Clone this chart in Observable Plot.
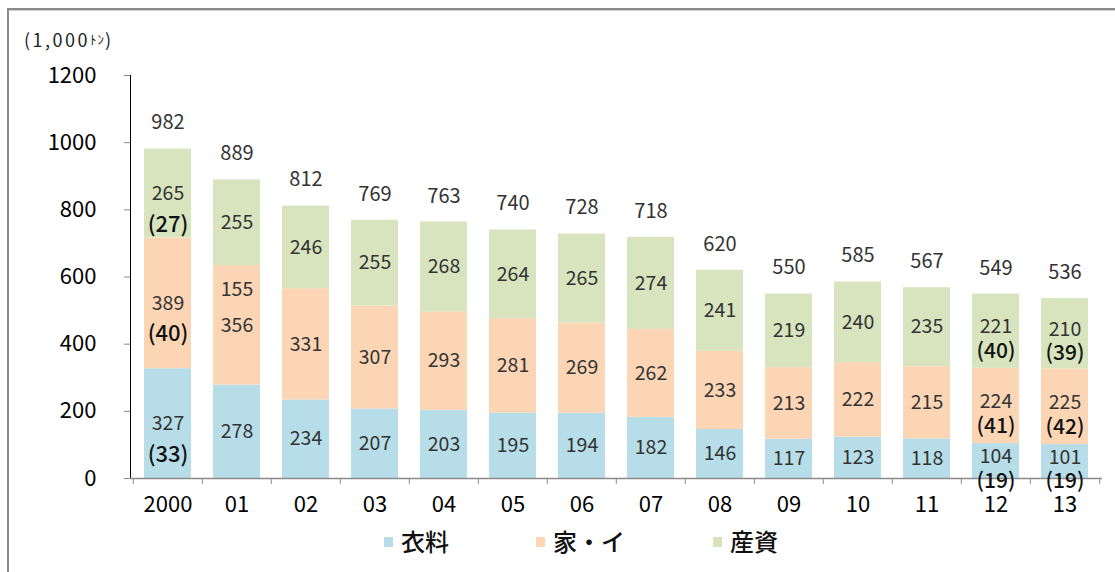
<!DOCTYPE html>
<html><head><meta charset="utf-8">
<script src="https://cdn.jsdelivr.net/npm/d3@7"></script>
<script src="https://cdn.jsdelivr.net/npm/@observablehq/plot@0.6"></script>
<style>
body{margin:0;background:#fff;font-family:"Noto Sans CJK JP","Noto Sans",sans-serif;}
#wrap{position:relative;width:1115px;height:572px;overflow:hidden;background:#fff;}
#chart{position:absolute;left:0;top:0;}
#frameTop{position:absolute;left:7px;top:8px;width:1108px;height:0;border-top:2px solid #8a8a8a;box-shadow:0 1px 0 #d0d0d0;}
#frameLeft{position:absolute;left:7px;top:8px;width:0;height:570px;border-left:2px solid #8a8a8a;}
#unit{position:absolute;left:24px;top:26px;font-size:18px;letter-spacing:2.5px;color:#222;white-space:nowrap;}
#unit .small{font-size:13px;letter-spacing:1px;position:relative;top:-3px;}
.leg{position:absolute;top:525px;font-size:24px;color:#111;white-space:nowrap;line-height:32px;font-weight:500;}
.leg i{display:inline-block;width:9px;height:10px;margin-right:8px;vertical-align:middle;position:relative;top:-2px;}
#chart svg [aria-label^="y-axis"] path,#chart svg [aria-label^="y-axis"] line{stroke:#8a8a8a;}
</style>
</head><body>
<div id="wrap">
  <div id="chart"></div>
  <div id="frameTop"></div>
  <div id="frameLeft"></div>
  <div id="unit">(1,000<span class="small">ﾄﾝ</span>)</div>
  <div id="legend"></div>
</div>
<script>
// ---- data ----
const years = ["2000","01","02","03","04","05","06","07","08","09","10","11","12","13"];
const seriesNames = ["衣料","家・イ","産資"];
const seriesColors = ["#b7dee8","#fcd5b5","#d7e4bd"];
const clothing   = [327,278,234,207,203,195,194,182,146,117,123,118,104,101];
const household  = [389,356,331,307,293,281,269,262,233,213,222,215,224,225];
const industrial = [265,255,246,255,268,264,265,274,241,219,240,235,221,210];
const totals     = [982,889,812,769,763,740,728,718,620,550,585,567,549,536];
const clothingShare   = [33,null,null,null,null,null,null,null,null,null,null,null,19,19];
const householdShare  = [40,null,null,null,null,null,null,null,null,null,null,null,41,42];
const industrialShare = [27,null,null,null,null,null,null,null,null,null,null,null,40,39];
const householdNote   = [null,155,null,null,null,null,null,null,null,null,null,null,null,null];
const yTicks = [0,200,400,600,800,1000,1200];

// ---- table ----
const valuesBySeries = [clothing, household, industrial];
const sharesBySeries = [clothingShare, householdShare, industrialShare];
const rows = [];
years.forEach((yr, i) => {
  seriesNames.forEach((s, k) => {
    rows.push({year: yr, series: s, value: valuesBySeries[k][i], share: sharesBySeries[k][i],
               note: k === 1 ? householdNote[i] : null});
  });
});
const totalRows = years.map((yr, i) => ({year: yr, total: totals[i]}));
const isLate = d => d.year !== "2000" && d.share != null;   // 2012/13 rows with shares

const W = 1115, H = 520, mL = 130, mR = 13, mT = 75, mB = 42;
const step = (W - mL - mR) / years.length;
const stackOpts = {x: "year", y: "value", z: "series", order: seriesNames};
const font = '"Noto Sans CJK JP","Noto Sans",sans-serif';

const chart = Plot.plot({
  width: W, height: H,
  marginLeft: mL, marginRight: mR, marginTop: mT, marginBottom: mB,
  style: {fontSize: "22px", fontFamily: font, color: "#000", background: "transparent", overflow: "visible"},
  x: {domain: years, paddingInner: 0.32, paddingOuter: 0.16, tickSize: 0, tickPadding: 18, label: null},
  y: {domain: [0, 1200], ticks: yTicks, tickSize: 6, tickPadding: 28, line: true, label: null, tickFormat: d => String(d)},
  color: {domain: seriesNames, range: seriesColors},
  marks: [
    Plot.barY(rows, Plot.stackY({...stackOpts, fill: "series"})),
    Plot.ruleY([0], {stroke: "#8a8a8a", strokeWidth: 1.5}),
    Plot.ruleX(years, {x: d => d, y1: 0, y2: -18, dx: -step / 2, stroke: "#8a8a8a"}),
    Plot.ruleX([years[years.length - 1]], {x: d => d, y1: 0, y2: -18, dx: step / 2, stroke: "#8a8a8a"}),
    Plot.text(rows, Plot.stackY({...stackOpts, text: d => isLate(d) ? null : d.value, fontSize: 19.5, fill: "#333"})),
    Plot.text(rows, Plot.stackY({...stackOpts, text: d => isLate(d) ? d.value : null, fontSize: 19.5, fill: "#333", dy: -4})),
    Plot.text(rows, Plot.stackY({...stackOpts, text: d => d.year === "2000" && d.share != null ? `(${d.share})` : null,
      fontSize: 22, fill: "#111", fontWeight: 500, dy: 31})),
    Plot.text(rows, Plot.stackY({...stackOpts, text: d => isLate(d) ? `(${d.share})` : null,
      fontSize: 21, fill: "#111", fontWeight: 500, dy: 20})),
    Plot.text(rows, Plot.stackY({...stackOpts, text: d => d.note, fontSize: 19.5, fill: "#333", dy: -36})),
    Plot.text(totalRows, {x: "year", y: "total", text: "total", fontSize: 20, fill: "#333", dy: -26})
  ]
});
document.getElementById("chart").appendChild(chart);

// ---- legend ----
const legendX = [384, 536, 713];
const legend = document.getElementById("legend");
seriesNames.forEach((s, k) => {
  const d = document.createElement("div");
  d.className = "leg";
  d.style.left = legendX[k] + "px";
  d.innerHTML = `<i style="background:${seriesColors[k]}"></i>${s}`;
  legend.appendChild(d);
});
</script>
</body></html>
